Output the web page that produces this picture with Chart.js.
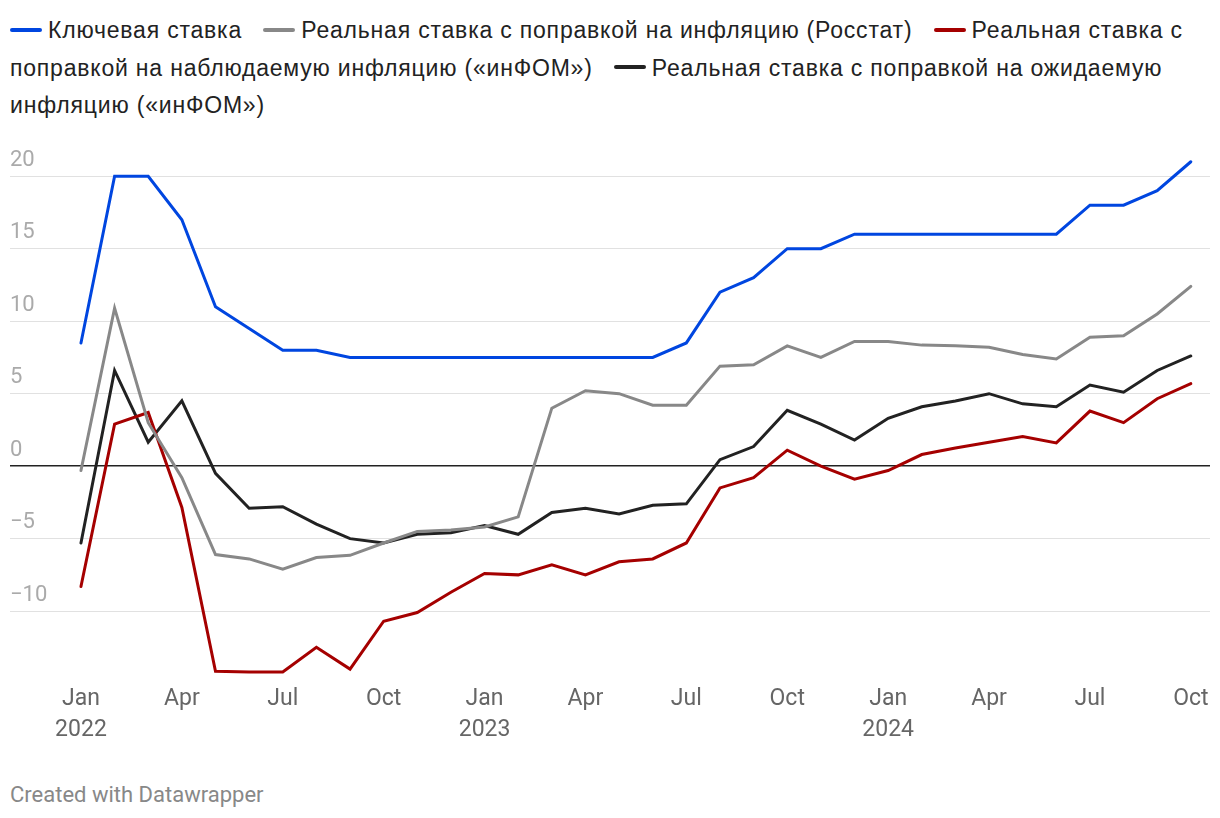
<!DOCTYPE html>
<html>
<head>
<meta charset="utf-8">
<script src="https://cdn.jsdelivr.net/npm/chart.js@4"></script>
<style>
  body { margin: 0; background: #fff; width: 1220px; height: 818px; overflow: hidden; position: relative; font-family: Roboto, sans-serif; }
  #legend { position: absolute; left: 10px; top: 12px; width: 1200px; font: 23px "Liberation Sans", Arial, sans-serif; letter-spacing: 0.8px; line-height: 37.5px; color: #222; }
  #legend .item { margin-right: 14px; }
  #legend .swatch { display: inline-block; width: 32px; height: 4px; border-radius: 2px; vertical-align: middle; margin-right: 6px; position: relative; top: -2px; }
  #wrap { position: absolute; left: 0; top: 140px; width: 1220px; height: 606px; }
  #note { position: absolute; left: 10px; top: 782px; font: 22px Roboto, sans-serif; color: #888; }
</style>
</head>
<body>
<div id="legend"></div>
<div id="wrap"><canvas id="chart"></canvas></div>
<div id="note">Created with Datawrapper</div>
<script>
// monthly, Jan 2022 - Oct 2024
const months = [
  '2022-01','2022-02','2022-03','2022-04','2022-05','2022-06','2022-07','2022-08','2022-09','2022-10','2022-11','2022-12',
  '2023-01','2023-02','2023-03','2023-04','2023-05','2023-06','2023-07','2023-08','2023-09','2023-10','2023-11','2023-12',
  '2024-01','2024-02','2024-03','2024-04','2024-05','2024-06','2024-07','2024-08','2024-09','2024-10'
];

const keyRate = [8.5, 20, 20, 17, 11, 9.5, 8, 8, 7.5, 7.5, 7.5, 7.5,
  7.5, 7.5, 7.5, 7.5, 7.5, 7.5, 8.5, 12, 13, 15, 15, 16,
  16, 16, 16, 16, 16, 16, 18, 18, 19, 21];

const realRosstat = [-0.3, 10.9, 3.0, -0.8, -6.1, -6.4, -7.1, -6.3, -6.15, -5.3, -4.5, -4.4,
  -4.2, -3.5, 4.0, 5.2, 5.0, 4.2, 4.2, 6.9, 7.0, 8.3, 7.5, 8.6,
  8.6, 8.35, 8.3, 8.2, 7.7, 7.4, 8.9, 9.0, 10.5, 12.4];

const realObserved = [-8.3, 2.9, 3.7, -2.85, -14.15, -14.2, -14.2, -12.5, -14.0, -10.7, -10.1, -8.7,
  -7.4, -7.5, -6.8, -7.5, -6.6, -6.4, -5.3, -1.5, -0.8, 1.1, 0.0, -0.9,
  -0.3, 0.8, 1.25, 1.65, 2.05, 1.6, 3.8, 3.0, 4.65, 5.7];

const realExpected = [-5.3, 6.6, 1.65, 4.5, -0.5, -2.9, -2.8, -4.0, -5.0, -5.3, -4.7, -4.6,
  -4.1, -4.7, -3.2, -2.9, -3.3, -2.7, -2.6, 0.45, 1.35, 3.85, 2.9, 1.8,
  3.3, 4.1, 4.5, 5.0, 4.3, 4.1, 5.6, 5.1, 6.6, 7.6];

const yTicks = [-10, -5, 0, 5, 10, 15, 20];
const monthNames = ['Jan','Feb','Mar','Apr','May','Jun','Jul','Aug','Sep','Oct','Nov','Dec'];

const series = [
  { label: 'Ключевая ставка', data: keyRate, color: '#0046e0' },
  { label: 'Реальная ставка с поправкой на инфляцию (Росстат)', data: realRosstat, color: '#888888' },
  { label: 'Реальная ставка с поправкой на наблюдаемую инфляцию («инФОМ»)', data: realObserved, color: '#a50000' },
  { label: 'Реальная ставка с поправкой на ожидаемую инфляцию («инФОМ»)', data: realExpected, color: '#222222' }
];

// html legend, wraps like the original
const legend = document.getElementById('legend');
series.forEach(s => {
  const item = document.createElement('span');
  item.className = 'item';
  const sw = document.createElement('span');
  sw.className = 'swatch';
  sw.style.background = s.color;
  item.appendChild(sw);
  item.appendChild(document.createTextNode(s.label));
  legend.appendChild(item);
  legend.appendChild(document.createTextNode(' '));
});

const datasets = series.map(s => ({
  label: s.label,
  data: s.data.map((v, i) => ({ x: i, y: v })),
  borderColor: s.color,
  backgroundColor: s.color,
  borderWidth: 3,
  pointRadius: 0,
  tension: 0,
  borderCapStyle: 'round',
  borderJoinStyle: 'miter'
}));

const ctx = document.getElementById('chart').getContext('2d');
const chart = new Chart(ctx, {
  type: 'line',
  data: { datasets: datasets },
  options: {
    responsive: true,
    maintainAspectRatio: false,
    animation: false,
    layout: { padding: { top: 5, left: 10, right: 10, bottom: 0 } },
    plugins: {
      legend: { display: false },
      tooltip: { enabled: false }
    },
    scales: {
      x: {
        type: 'linear',
        min: -2.11,
        max: 33.57,
        grid: { display: false },
        border: { display: false },
        afterBuildTicks: axis => {
          axis.ticks = months.map((m, i) => i).filter(i => i % 3 === 0).map(i => ({ value: i }));
        },
        ticks: {
          autoSkip: false,
          maxRotation: 0,
          padding: 0,
          color: '#666',
          font: { family: 'Roboto', size: 23, lineHeight: 1.35 },
          callback: v => {
            const [yr, mo] = months[v].split('-');
            const name = monthNames[Number(mo) - 1];
            return mo === '01' ? [name, yr] : name;
          }
        }
      },
      y: {
        min: -14.47,
        max: 21.59,
        border: { display: false },
        afterBuildTicks: axis => {
          axis.ticks = yTicks.map(v => ({ value: v }));
        },
        grid: {
          drawTicks: false,
          color: c => c.tick.value === 0 ? '#222' : '#e1e1e1',
          lineWidth: c => c.tick.value === 0 ? 1.5 : 1
        },
        ticks: {
          mirror: true,
          padding: 0,
          labelOffset: -16,
          color: '#aaa',
          font: { family: 'Roboto', size: 22 },
          callback: v => v < 0 ? '\u2212' + Math.abs(v) : String(v)
        }
      }
    }
  }
});
</script>
</body>
</html>
